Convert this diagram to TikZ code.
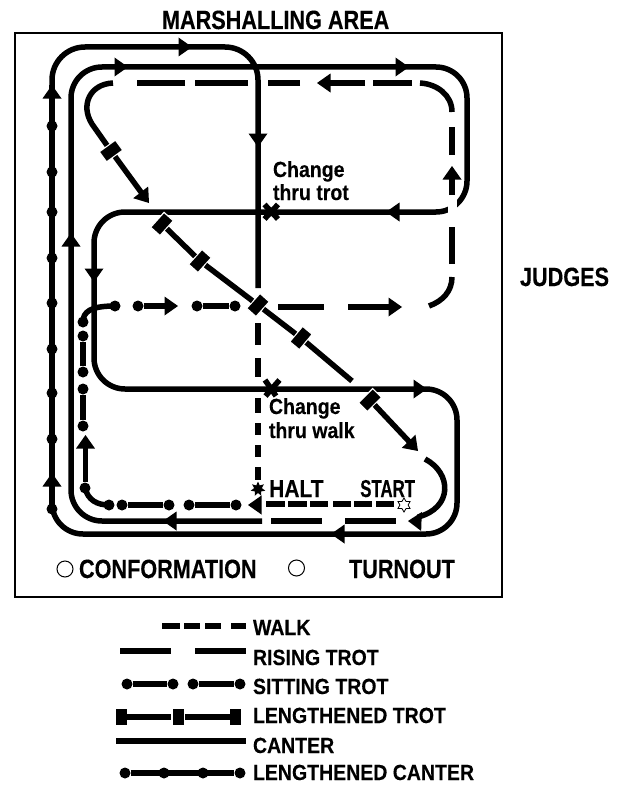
\documentclass[tikz,border=0pt]{standalone}
\usepackage{fontspec}
\usetikzlibrary{shapes.geometric}
\newfontfamily\fontTitle[FakeStretch=.82,FakeBold=.25]{Liberation Sans}
\newfontfamily\fontLeg[FakeStretch=.89,FakeBold=.25]{Liberation Sans}
\newfontfamily\fontHalt[FakeStretch=.86,FakeBold=.25]{Liberation Sans}
\newfontfamily\fontStart[FakeStretch=.69,FakeBold=.25]{Liberation Sans}
\tikzset{
  ln/.style={line width=5.5bp,black},
  thin ln/.style={line width=5.5bp,black,line cap=butt},
  bead/.style={circle,fill=black,inner sep=0pt,minimum size=11bp},
  block/.style={rectangle,fill=black,draw=white,line width=1.2bp,inner sep=0pt,minimum width=12.5bp,minimum height=20bp},
  lbl/.style={anchor=base west,inner sep=0pt,outer sep=0pt,font=\fontLeg\bfseries\fontsize{22}{24}\selectfont},
  biglbl/.style={anchor=base west,inner sep=0pt,outer sep=0pt,font=\fontTitle\bfseries\fontsize{26.5}{28}\selectfont},
  ring/.style={circle,draw=black,line width=1bp,fill=white,inner sep=0pt,minimum size=16bp},
}
\newcommand\arh[3]{\fill[black,shift={(#1,#2)},rotate=#3] (0,0)--(-13.5,9.5)--(-13.5,-9.5)--cycle;}
\begin{document}
\begin{tikzpicture}[x=1bp,y=-1bp]
\useasboundingbox (0,0) rectangle (617,785);
\draw[line width=2bp] (15,33) rectangle (501.5,597);
\node[biglbl] (title) at (162,29) {MARSHALLING AREA};
\node[biglbl] (judges) at (520,286) {JUDGES};
\node[ring] (c1) at (65,569) {};
\node[biglbl] (conf) at (79,578) {CONFORMATION};
\node[ring] (c2) at (296.5,568) {};
\node[biglbl] (turn) at (349,578) {TURNOUT};

% canter
\draw[ln,rounded corners=33bp] (52,85) -- (52,47) -- (258,47) -- (258,288);
\draw[ln,rounded corners=31bp] (52,505) -- (52,534) -- (457,534) -- (457,389) -- (94,389) -- (94,212) -- (467,212) -- (467,67) -- (71,67) -- (71,521) -- (262,521);
\fill[white] (447.5,197) rectangle (456.5,222);
\fill[white] (261,74) rectangle (264,90);
\arh{192}{47}{0}
\arh{128}{67}{0}
\arh{409}{67}{0}
\arh{258}{147}{-90}
\arh{386}{212}{180}
\arh{94}{282}{-90}
\arh{71}{233}{90}
\arh{427}{389}{0}
\arh{331}{534}{180}
\arh{163}{521}{180}

% lengthened canter
\draw[ln] (52,510) -- (52,85);
\foreach \y [count=\i] in {126,172,212,258,303,349,393,439,509}
  \node[bead] (lc\i) at (52,\y) {};
\arh{52}{85}{90}
\arh{52}{473}{90}

% rising trot
\draw[thin ln] (271,521) -- (322,521);
\draw[thin ln] (345,521) -- (396,521);
\draw[thin ln] (278,307) -- (324,307);
\draw[thin ln] (348,307) -- (392,307);
\arh{402}{307}{0}
\draw[thin ln] (429,306) .. controls (443,301) and (452,291) .. (452,277);
\draw[thin ln] (452,264) -- (452,227);
\draw[thin ln] (452,195) -- (452,175);
\arh{452}{166}{90}
\draw[thin ln] (452,155) -- (452,127);
\draw[thin ln] (452,112) .. controls (452,95) and (437,84) .. (420,83);
\draw[thin ln] (412,83) -- (373,83);
\draw[thin ln] (365,83) -- (325,83);
\arh{317}{83}{180}
\draw[thin ln] (300,83) -- (268,83);
\draw[thin ln] (248,83) -- (195,83);
\draw[thin ln] (185,83) -- (137,83);

% lengthened trot
\node[block,rotate=-54] (b1) at (111,151) {};
\node[block,rotate=-42] (b2) at (162,224) {};
\node[block,rotate=-42] (b3) at (200,261) {};
\node[block,rotate=-42] (b4) at (258,305) {};
\node[block,rotate=-40] (b5) at (301,338) {};
\node[block,rotate=-45] (b6) at (370,400) {};
\coordinate (t1) at (113,83);
\coordinate (t2) at (149,203);
\coordinate (t3) at (352,381);
\coordinate (t4) at (418,451);
\draw[thin ln] (t1) .. controls (90,84) and (80,105) .. (92,124) -- (b1);
\draw[thin ln,shorten >=10bp] (b1) -- (t2);
\arh{149}{203}{-52}
\draw[thin ln] (b2) -- (b3);
\draw[thin ln] (b3) -- (b4);
\draw[thin ln] (b4) -- (b5);
\draw[thin ln] (b5) -- (t3);
\draw[thin ln,shorten >=10bp] (b6) -- (t4);
\arh{418}{451}{-46}
\draw[thin ln] (425,459) .. controls (452,473) and (453,508) .. (418,517);
\arh{408}{521}{178}

% walk
\draw[thin ln] (258,323) -- (258,345);
\draw[thin ln] (258,358) -- (258,377);
\draw[thin ln] (258,398) -- (258,413);
\draw[thin ln] (258,423) -- (258,435);
\draw[thin ln] (258,445) -- (258,457);
\draw[thin ln] (258,467) -- (258,480);
\foreach \a/\b in {266/285,288/307,310/328,333/351,354/372,376/394}
  \draw[thin ln] (\a,504) -- (\b,504);
\arh{248}{505}{180}
\node[star,star points=7,star point ratio=1.9,fill=black,inner sep=0pt,minimum size=15bp] (halt) at (258,489) {};
\node[star,star points=6,star point ratio=1.7,draw=black,fill=white,line width=.8bp,inner sep=0pt,minimum size=14bp] (start) at (404,505) {};

% sitting trot
\node[bead] (s1) at (236,505) {};
\node[bead] (s2) at (189,505) {};
\node[bead] (s3) at (169,505) {};
\node[bead] (s4) at (122,505) {};
\node[bead] (s5) at (109,505) {};
\node[bead] (s6) at (85,488) {};
\node[bead] (s7) at (83,426) {};
\node[bead] (s8) at (83,389) {};
\node[bead] (s9) at (83,372) {};
\node[bead] (s10) at (83,336) {};
\node[bead] (s11) at (83,322) {};
\node[bead] (s12) at (115,306) {};
\node[bead] (s13) at (138,306) {};
\node[bead] (s14) at (197,306) {};
\node[bead] (s15) at (235,306) {};
\coordinate (s13a) at (168,306);
\coordinate (s6a) at (85.5,444);
\draw[ln] (s1) -- (s2);
\draw[ln] (s3) -- (s4);
\draw[ln] (s5.center) .. controls (97,505) and (88,500) .. (s6.center);
\draw[thin ln] (85.5,482) -- (s6a);
\arh{85.5}{435}{90}
\draw[ln] (s7) -- (s8);
\draw[ln] (s9) -- (s10);
\draw[ln] (s11.center) .. controls (83,312) and (90,306) .. (s12.center);
\draw[thin ln] (s13) -- (s13a);
\arh{178}{306}{0}
\draw[ln] (s14) -- (s15);

% change marks
\draw[line width=5.5bp] (264.5,204.5) -- (278,219) (278,204.5) -- (264.5,219);
\draw[line width=5.5bp] (265,380) -- (276,396) (279.5,380) -- (265.5,396);

% labels in the arena
\node[lbl] (ct1) at (273,177) {Change};
\node[lbl] (ct2) at (273,200) {thru trot};
\node[lbl] (cw1) at (269,414) {Change};
\node[lbl] (cw2) at (269,438) {thru walk};
\node[anchor=base west,inner sep=0pt,font=\fontHalt\bfseries\fontsize{24.5}{26}\selectfont] (haltl) at (269,497) {HALT};
\node[anchor=base west,inner sep=0pt,font=\fontStart\bfseries\fontsize{24.5}{26}\selectfont] (startl) at (360,497) {START};

% legend
\foreach \a/\b in {162/180,184/200,205/221,231/246}
  \draw[thin ln] (\a,626) -- (\b,626);
\draw[thin ln] (120,651) -- (171,651);
\draw[thin ln] (195,651) -- (246,651);
\node[bead] (k1) at (127,684) {};
\node[bead] (k2) at (173,684) {};
\node[bead] (k3) at (193,684) {};
\node[bead] (k4) at (240,684) {};
\draw[ln] (k1) -- (k2);
\draw[ln] (k3) -- (k4);
\node[fill=black,inner sep=0pt,minimum width=11bp,minimum height=16bp] (m1) at (121.5,717) {};
\node[fill=black,inner sep=0pt,minimum width=11bp,minimum height=16bp] (m2) at (178.5,717) {};
\node[fill=black,inner sep=0pt,minimum width=11bp,minimum height=16bp] (m3) at (235.5,717) {};
\draw[thin ln] (m1) -- (171,717);
\draw[thin ln] (185,717) -- (m3);
\draw[thin ln] (116,741) -- (246,741);
\node[bead] (q1) at (125,773) {};
\node[bead] (q2) at (164,773) {};
\node[bead] (q3) at (203,773) {};
\node[bead] (q4) at (240,773) {};
\draw[ln] (q1) -- (q4);
\node[lbl] (l1) at (253,635) {WALK};
\node[lbl] (l2) at (253,665) {RISING TROT};
\node[lbl] (l3) at (253,694) {SITTING TROT};
\node[lbl] (l4) at (253,723) {LENGTHENED TROT};
\node[lbl] (l5) at (253,753) {CANTER};
\node[lbl] (l6) at (253,780) {LENGTHENED CANTER};
\end{tikzpicture}
\end{document}
